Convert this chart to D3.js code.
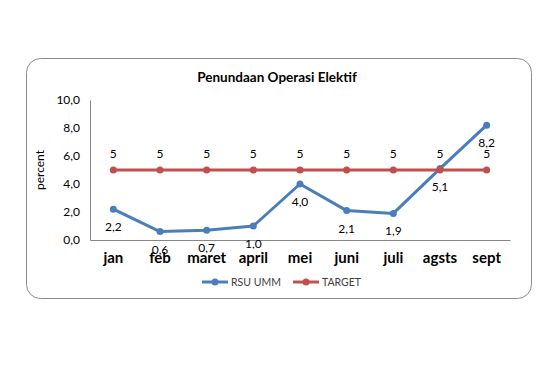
<!DOCTYPE html>
<html>
<head>
<meta charset="utf-8">
<script src="https://cdn.jsdelivr.net/npm/d3@7"></script>
<style>
  body { margin: 0; background: #fff; }
  text { font-family: Lato, "Open Sans", sans-serif; fill: #000; }
  .title { font-weight: bold; font-size: 13.5px; }
  .tick text { font-size: 12px; }
  .tick text.cat { font-weight: bold; font-size: 15px; }
  .lbl { font-size: 12px; }
  .legend { font-size: 10.5px; fill: #404040; }
</style>
</head>
<body>
<div id="viz"></div>
<script>
// months
var months = ["jan", "feb", "maret", "april", "mei", "juni", "juli", "agsts", "sept"];
// RSU UMM series (percent)
var rsuUmm = [2.2, 0.6, 0.7, 1.0, 4.0, 2.1, 1.9, 5.1, 8.2];
// target
var target = [5, 5, 5, 5, 5, 5, 5, 5, 5];
var yTicks = [0, 2, 4, 6, 8, 10];

var blue = "#4a7ebb";
var red = "#c0504d";

var svg = d3.select("#viz").append("svg")
  .attr("width", 560)
  .attr("height", 370);

// chart frame
svg.append("rect")
  .attr("x", 26.5).attr("y", 58.5)
  .attr("width", 505).attr("height", 240)
  .attr("rx", 14)
  .attr("fill", "#fff")
  .attr("stroke", "#8c8c8c")
  .attr("stroke-width", 1);

let plotLeft = 90, plotRight = 510, plotTop = 100, plotBottom = 240;

var xScale = d3.scaleBand()
  .domain(months)
  .range([plotLeft, plotRight]);

var yScale = d3.scaleLinear()
  .domain([0, 10])
  .range([plotBottom, plotTop]);

var cx = (d, i) => xScale(months[i]) + xScale.bandwidth() / 2;
var fmt = (v) => v.toFixed(1).replace(".", ",");

// y axis
var yAxis = svg.append("g")
  .attr("transform", `translate(${plotLeft},0)`)
  .call(d3.axisLeft(yScale).tickValues(yTicks).tickSize(0).tickPadding(10).tickFormat(fmt));
yAxis.select(".domain").attr("stroke", "#868686");

// x axis
var xAxis = svg.append("g")
  .attr("transform", `translate(0,${plotBottom})`)
  .call(d3.axisBottom(xScale).tickSize(0).tickPadding(12));
xAxis.select(".domain").attr("stroke", "#868686");
xAxis.selectAll("text").attr("class", "cat");

svg.append("text")
  .attr("class", "lbl")
  .attr("transform", "rotate(-90)")
  .attr("x", -170)
  .attr("y", 44)
  .attr("text-anchor", "middle")
  .text("percent");

svg.append("text")
  .attr("class", "title")
  .attr("x", 277)
  .attr("y", 82)
  .attr("text-anchor", "middle")
  .text("Penundaan Operasi Elektif");

var line = d3.line()
  .x(cx)
  .y((d) => yScale(d));

function drawSeries(data, color, above) {
  svg.append("path")
    .datum(data)
    .attr("fill", "none")
    .attr("stroke", color)
    .attr("stroke-width", 3)
    .attr("stroke-linejoin", "round")
    .attr("d", line);

  svg.selectAll(null)
    .data(data)
    .enter()
    .append("circle")
    .attr("cx", cx)
    .attr("cy", (d) => yScale(d))
    .attr("r", 3.5)
    .attr("fill", color);

  svg.selectAll(null)
    .data(data)
    .enter()
    .append("text")
    .attr("class", "lbl")
    .attr("x", cx)
    .attr("y", (d) => above ? yScale(d) - 12 : yScale(d) + 22)
    .attr("text-anchor", "middle")
    .text((d) => above ? d : fmt(d));
}

drawSeries(rsuUmm, blue, false);
drawSeries(target, red, true);

// legend
var legend = [
  { name: "RSU UMM", color: blue, x: 202 },
  { name: "TARGET", color: red, x: 293 }
];
legend.forEach(function (l) {
  svg.append("line")
    .attr("x1", l.x).attr("x2", l.x + 26)
    .attr("y1", 282).attr("y2", 282)
    .attr("stroke", l.color)
    .attr("stroke-width", 3);
  svg.append("circle")
    .attr("cx", l.x + 13).attr("cy", 282)
    .attr("r", 3.5)
    .attr("fill", l.color);
  svg.append("text")
    .attr("class", "legend")
    .attr("x", l.x + 29)
    .attr("y", 286)
    .text(l.name);
});
</script>
</body>
</html>
